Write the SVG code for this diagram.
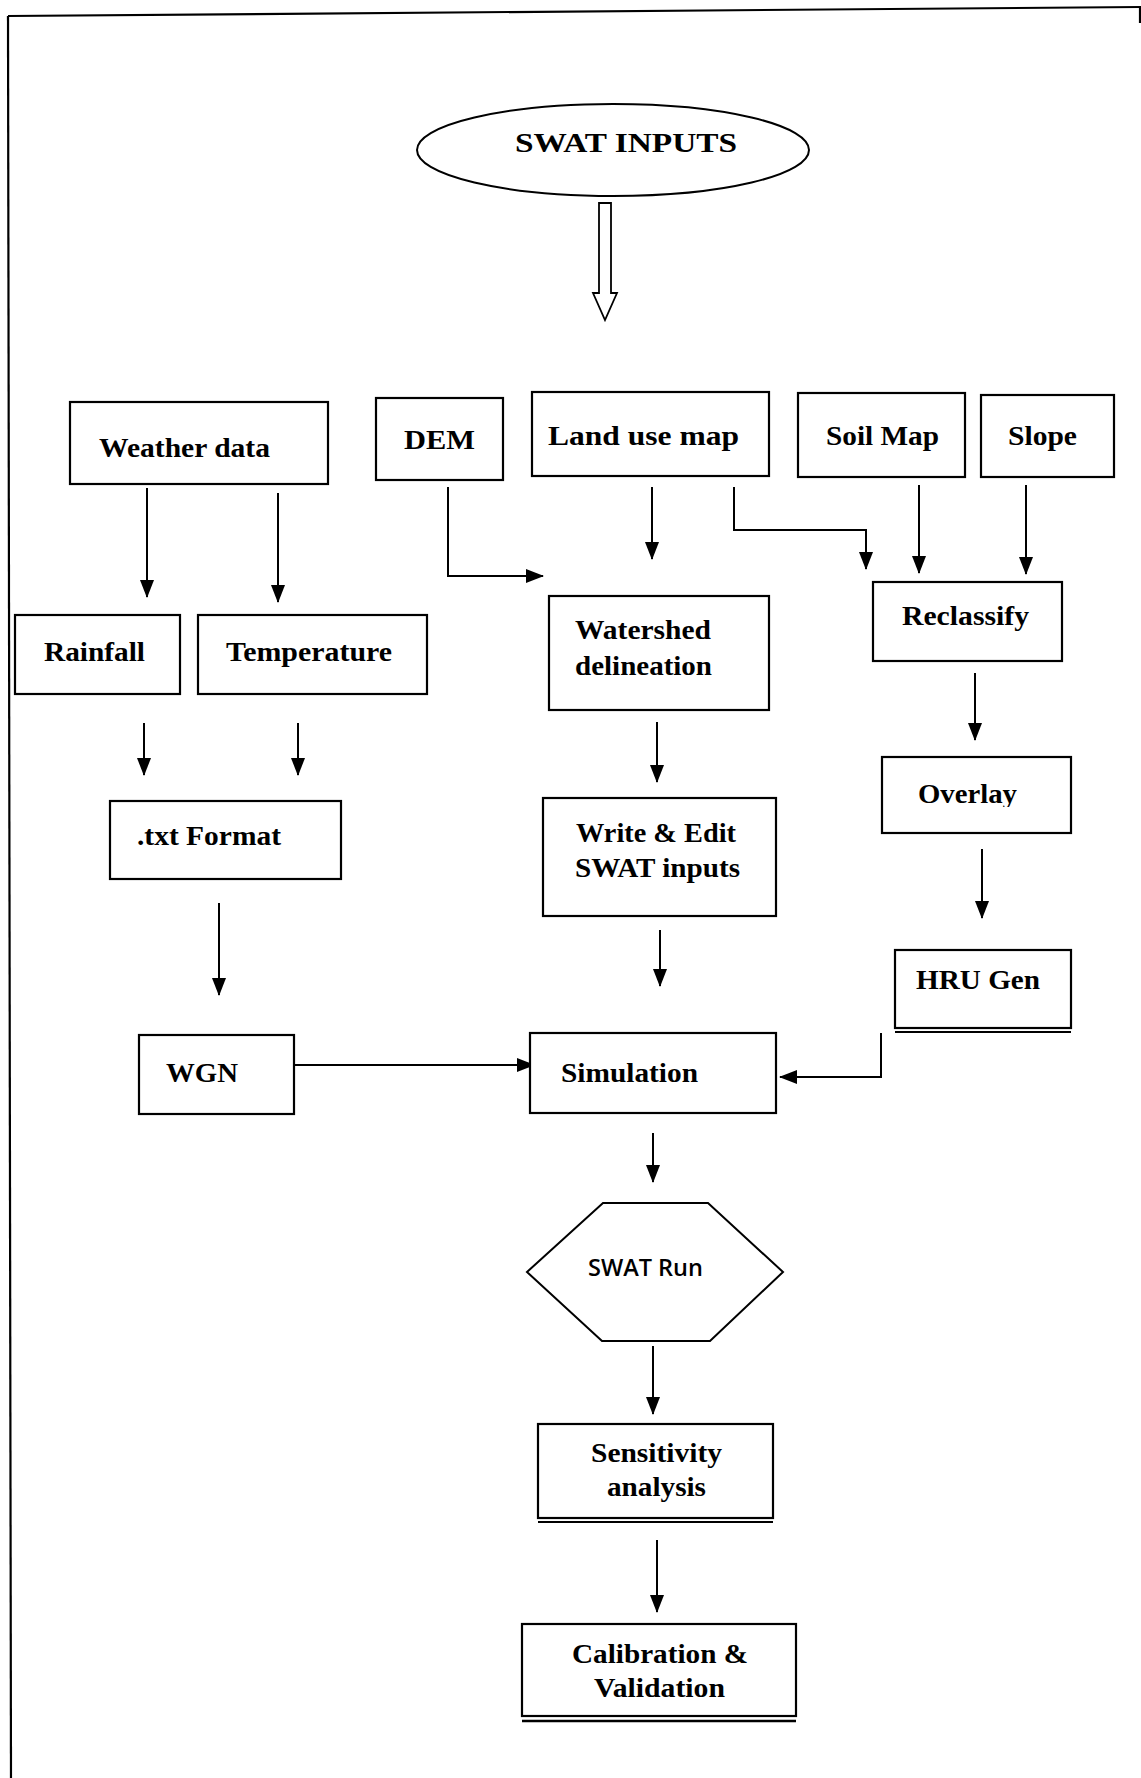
<svg xmlns="http://www.w3.org/2000/svg" width="1141" height="1778" viewBox="0 0 1141 1778">
<style>
.bx{fill:#fff;stroke:#000;stroke-width:2.2}
.t{font-family:"Liberation Serif","Times New Roman",serif;font-weight:bold;font-size:27px;fill:#000}
.c{fill:none;stroke:#000;stroke-width:2}
.fr{fill:none;stroke:#000;stroke-width:2.2}
</style>
<defs>
<marker id="ah" markerWidth="18" markerHeight="14" refX="17" refY="7" orient="auto" markerUnits="userSpaceOnUse">
<path d="M0,0 L18,7 L0,14 z" fill="#000"/>
</marker>
<clipPath id="ovclip"><rect x="900" y="770" width="140" height="37"/></clipPath>
</defs>
<rect width="1141" height="1778" fill="#fff"/>
<g id="frame">
<path class="fr" d="M8,16 L1141,7"/>
<path class="fr" d="M8,16 L11,1778"/>
<path class="fr" d="M1140,7 L1140,23"/>
</g>
<g id="connectors">
<path d="M599,203 L611,203 L611,293 L617,293 L605,320 L593,293 L599,293 Z" fill="#fff" stroke="#000" stroke-width="1.8"/>
<path class="c" d="M147,488 L147,597" marker-end="url(#ah)"/>
<path class="c" d="M278,493 L278,602" marker-end="url(#ah)"/>
<path class="c" d="M448,487 L448,576 L543,576" marker-end="url(#ah)"/>
<path class="c" d="M652,487 L652,559" marker-end="url(#ah)"/>
<path class="c" d="M734,487 L734,530 L866,530 L866,569" marker-end="url(#ah)"/>
<path class="c" d="M919,485 L919,573" marker-end="url(#ah)"/>
<path class="c" d="M1026,485 L1026,574" marker-end="url(#ah)"/>
<path class="c" d="M144,723 L144,775" marker-end="url(#ah)"/>
<path class="c" d="M298,723 L298,775" marker-end="url(#ah)"/>
<path class="c" d="M657,722 L657,782" marker-end="url(#ah)"/>
<path class="c" d="M975,673 L975,740" marker-end="url(#ah)"/>
<path class="c" d="M219,903 L219,995" marker-end="url(#ah)"/>
<path class="c" d="M660,930 L660,986" marker-end="url(#ah)"/>
<path class="c" d="M982,849 L982,918" marker-end="url(#ah)"/>
<path class="c" d="M294,1065 L534,1065" marker-end="url(#ah)"/>
<path class="c" d="M881,1033 L881,1077 L780,1077" marker-end="url(#ah)"/>
<path class="c" d="M653,1133 L653,1182" marker-end="url(#ah)"/>
<path class="c" d="M653,1346 L653,1414" marker-end="url(#ah)"/>
<path class="c" d="M657,1540 L657,1612" marker-end="url(#ah)"/>
</g>
<g id="swat-inputs">
<ellipse cx="613" cy="150" rx="196" ry="46" fill="#fff" stroke="#000" stroke-width="2"/>
<text class="t" x="515" y="152" font-size="32" textLength="222" lengthAdjust="spacingAndGlyphs">SWAT INPUTS</text>
</g>
<g id="weather-data">
<rect class="bx" x="70" y="402" width="258" height="82"/>
<text class="t" x="99" y="457" textLength="171" lengthAdjust="spacingAndGlyphs">Weather data</text>
</g>
<g id="dem">
<rect class="bx" x="376" y="398" width="127" height="82"/>
<text class="t" x="404" y="449" textLength="71" lengthAdjust="spacingAndGlyphs">DEM</text>
</g>
<g id="land-use-map">
<rect class="bx" x="532" y="392" width="237" height="84"/>
<text class="t" x="548" y="445" textLength="191" lengthAdjust="spacingAndGlyphs">Land use map</text>
</g>
<g id="soil-map">
<rect class="bx" x="798" y="393" width="167" height="84"/>
<text class="t" x="826" y="445" textLength="113" lengthAdjust="spacingAndGlyphs">Soil Map</text>
</g>
<g id="slope">
<rect class="bx" x="981" y="395" width="133" height="82"/>
<text class="t" x="1008" y="445" textLength="69" lengthAdjust="spacingAndGlyphs">Slope</text>
</g>
<g id="rainfall">
<rect class="bx" x="15" y="615" width="165" height="79"/>
<text class="t" x="44" y="661" textLength="101" lengthAdjust="spacingAndGlyphs">Rainfall</text>
</g>
<g id="temperature">
<rect class="bx" x="198" y="615" width="229" height="79"/>
<text class="t" x="226" y="661" textLength="166" lengthAdjust="spacingAndGlyphs">Temperature</text>
</g>
<g id="watershed-delineation">
<rect class="bx" x="549" y="596" width="220" height="114"/>
<text class="t" x="575" y="639" textLength="136" lengthAdjust="spacingAndGlyphs">Watershed</text>
<text class="t" x="575" y="675" textLength="137" lengthAdjust="spacingAndGlyphs">delineation</text>
</g>
<g id="reclassify">
<rect class="bx" x="873" y="582" width="189" height="79"/>
<text class="t" x="902" y="625" textLength="127" lengthAdjust="spacingAndGlyphs">Reclassify</text>
</g>
<g id="txt-format">
<rect class="bx" x="110" y="801" width="231" height="78"/>
<text class="t" x="137" y="845" textLength="144" lengthAdjust="spacingAndGlyphs">.txt Format</text>
</g>
<g id="write-edit">
<rect class="bx" x="543" y="798" width="233" height="118"/>
<text class="t" x="576" y="842" textLength="160" lengthAdjust="spacingAndGlyphs">Write &amp; Edit</text>
<text class="t" x="575" y="877" textLength="165" lengthAdjust="spacingAndGlyphs">SWAT inputs</text>
</g>
<g id="overlay">
<rect class="bx" x="882" y="757" width="189" height="76"/>
<text class="t" x="918" y="803" textLength="99" lengthAdjust="spacingAndGlyphs" clip-path="url(#ovclip)">Overlay</text>
</g>
<g id="hru-gen">
<rect class="bx" x="895" y="950" width="176" height="78"/>
<path d="M895,1032 L1071,1032" stroke="#000" stroke-width="2"/>
<text class="t" x="916" y="989" textLength="124" lengthAdjust="spacingAndGlyphs">HRU Gen</text>
</g>
<g id="wgn">
<rect class="bx" x="139" y="1035" width="155" height="79"/>
<text class="t" x="166" y="1082" textLength="72" lengthAdjust="spacingAndGlyphs">WGN</text>
</g>
<g id="simulation">
<rect class="bx" x="530" y="1033" width="246" height="80"/>
<text class="t" x="561" y="1082" textLength="137" lengthAdjust="spacingAndGlyphs">Simulation</text>
</g>
<g id="swat-run">
<polygon points="527,1272 603,1203 708,1203 783,1272 710,1341 602,1341" fill="#fff" stroke="#000" stroke-width="2"/>
<text x="588" y="1276" font-family="'Open Sans','Noto Sans',sans-serif" font-size="23" font-weight="600" textLength="115" lengthAdjust="spacingAndGlyphs">SWAT Run</text>
</g>
<g id="sensitivity-analysis">
<rect class="bx" x="538" y="1424" width="235" height="94"/>
<path d="M538,1522 L773,1522" stroke="#000" stroke-width="2"/>
<text class="t" x="591" y="1462" textLength="131" lengthAdjust="spacingAndGlyphs">Sensitivity</text>
<text class="t" x="607" y="1496" textLength="99" lengthAdjust="spacingAndGlyphs">analysis</text>
</g>
<g id="calibration-validation">
<rect class="bx" x="522" y="1624" width="274" height="92"/>
<path d="M522,1721 L796,1721" stroke="#000" stroke-width="2.4"/>
<text class="t" x="572" y="1663" textLength="176" lengthAdjust="spacingAndGlyphs">Calibration &amp;</text>
<text class="t" x="594" y="1697" textLength="131" lengthAdjust="spacingAndGlyphs">Validation</text>
</g>
</svg>
